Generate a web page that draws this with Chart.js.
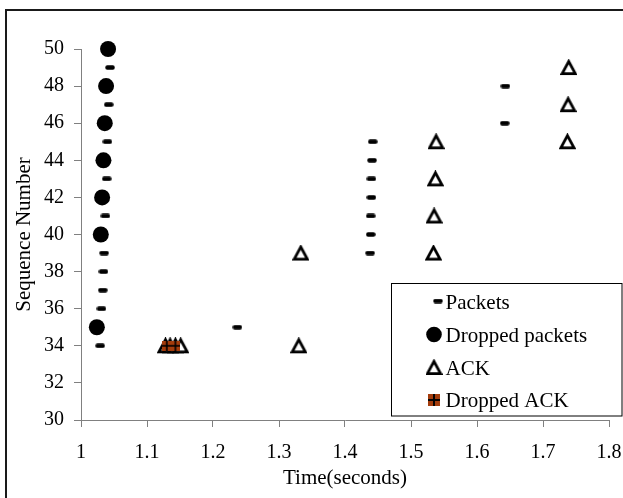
<!DOCTYPE html>
<html>
<head>
<meta charset="utf-8">
<script src="https://cdn.jsdelivr.net/npm/chart.js@4.4.1/dist/chart.umd.min.js"></script>
<style>
  html, body { margin: 0; padding: 0; background: #fff; }
  #wrap { position: relative; width: 623px; height: 498px; }
</style>
</head>
<body>
<div id="wrap"><canvas id="c" width="623" height="498"></canvas></div>
<script>
// ---- Data ----
const packetsX = [1.029, 1.031, 1.033, 1.034, 1.035, 1.037, 1.039, 1.040, 1.042, 1.044, 1.237, 1.438, 1.439, 1.439, 1.440, 1.440, 1.441, 1.442, 1.642, 1.643];
const packetsY = [34, 36, 37, 38, 39, 41, 43, 45, 47, 49, 35, 39, 40, 41, 42, 43, 44, 45, 46, 48];

const droppedX = [1.024, 1.030, 1.032, 1.034, 1.036, 1.038, 1.041];
const droppedY = [35, 40, 42, 44, 46, 48, 50];

const ackX = [1.128, 1.135, 1.143, 1.151, 1.330, 1.333, 1.534, 1.535, 1.537, 1.538, 1.737, 1.738, 1.739];
const ackY = [34, 34, 34, 34, 34, 39, 39, 41, 43, 45, 45, 47, 49];

const droppedAckX = [1.130, 1.143];
const droppedAckY = [34, 34];

const seriesNames = ['Packets', 'Dropped packets', 'ACK', 'Dropped ACK'];
const xTickMin = 1, xTickMax = 1.8, xTickStep = 0.1;
const yTickMin = 30, yTickMax = 50, yTickStep = 2;

const FONT = '"Liberation Serif", "Times New Roman", serif';
const BROWN = '#a33c0c';

// ---- marker images ----
function makeDash() {
  const c = document.createElement('canvas'); c.width = 10; c.height = 5;
  const g = c.getContext('2d');
  g.fillStyle = '#000';
  g.beginPath();
  if (g.roundRect) g.roundRect(0.3, 0.3, 9.4, 4.4, 2); else g.rect(0.3, 0.3, 9.4, 4.4);
  g.fill();
  return c;
}
function makeTriangle() {
  const c = document.createElement('canvas'); c.width = 17; c.height = 17;
  const g = c.getContext('2d');
  g.fillStyle = '#fff'; g.strokeStyle = '#000'; g.lineWidth = 2.8; g.lineJoin = 'miter';
  g.beginPath();
  g.moveTo(8.5, 2.4); g.lineTo(15.1, 14.6); g.lineTo(1.9, 14.6); g.closePath();
  g.fill(); g.stroke();
  return c;
}
function makeDropAck(s) {
  const c = document.createElement('canvas'); c.width = s; c.height = s;
  const g = c.getContext('2d');
  g.fillStyle = BROWN; g.fillRect(0, 0, s, s);
  g.fillStyle = '#000';
  const w = Math.max(1.5, s * 0.16);
  g.fillRect(s / 2 - w / 2, 0, w, s);
  g.fillRect(0, s / 2 - w / 2, s, w);
  return c;
}
const dashImg = makeDash();
const triImg = makeTriangle();
const dropAckImg = makeDropAck(10);
const dropAckLegendImg = makeDropAck(12);

function pts(xs, ys) { return xs.map((x, i) => ({ x: x, y: ys[i] })); }

// ---- frame + legend plugin ----
const framePlugin = {
  id: 'frame',
  beforeDraw(chart) {
    const ctx = chart.ctx;
    ctx.save();
    ctx.fillStyle = '#fff';
    ctx.fillRect(0, 0, chart.width, chart.height);
    ctx.strokeStyle = '#1a1a1a';
    ctx.lineWidth = 2;
    ctx.beginPath();
    ctx.moveTo(6, chart.height);
    ctx.lineTo(6, 10);
    ctx.lineTo(chart.width, 10);
    ctx.stroke();
    ctx.restore();
  },
  afterDraw(chart) {
    const ctx = chart.ctx;
    ctx.save();
    const bx = 391.5, by = 283.5, bw = 230.5, bh = 132.5;
    ctx.fillStyle = '#fff';
    ctx.fillRect(bx, by, bw, bh);
    ctx.strokeStyle = '#000';
    ctx.lineWidth = 1;
    ctx.strokeRect(bx, by, bw, bh);
    const baselines = [308.5, 341.5, 374.5, 407];
    const mx = 434;
    ctx.font = '21px ' + FONT;
    ctx.fillStyle = '#000';
    ctx.textBaseline = 'alphabetic';
    ctx.textAlign = 'left';
    seriesNames.forEach((name, i) => {
      const cy = baselines[i] - 7;
      if (i === 0) ctx.drawImage(dashImg, 438 - 5, cy - 3);
      else if (i === 1) { ctx.beginPath(); ctx.arc(mx, cy, 7.8, 0, Math.PI * 2); ctx.fillStyle = '#000'; ctx.fill(); }
      else if (i === 2) ctx.drawImage(triImg, mx - 8.5, cy - 8.5);
      else ctx.drawImage(dropAckLegendImg, mx - 6, cy - 6);
      ctx.fillStyle = '#000';
      ctx.fillText(name, 445.5, baselines[i]);
    });
    ctx.restore();
  }
};

const axisColor = '#808080';

new Chart(document.getElementById('c'), {
  type: 'scatter',
  data: {
    datasets: [
      { label: seriesNames[3], data: pts(droppedAckX, droppedAckY), pointStyle: dropAckImg, order: 0, clip: false },
      { label: seriesNames[2], data: pts(ackX, ackY), pointStyle: triImg, order: 1, clip: false },
      { label: seriesNames[1], data: pts(droppedX, droppedY), pointStyle: 'circle', pointRadius: 8, backgroundColor: '#000', borderColor: '#000', borderWidth: 0, order: 2, clip: false },
      { label: seriesNames[0], data: pts(packetsX, packetsY), pointStyle: dashImg, order: 3, clip: false }
    ]
  },
  options: {
    responsive: false,
    animation: false,
    devicePixelRatio: 1,
    layout: { padding: { top: 49, right: 14, left: 0, bottom: 0 } },
    plugins: { legend: { display: false }, tooltip: { enabled: false } },
    elements: { point: { radius: 5, hoverRadius: 5 } },
    scales: {
      x: {
        type: 'linear',
        min: xTickMin, max: xTickMax,
        afterFit(s) { s.height = 78; s.paddingLeft = 0; s.paddingRight = 0; },
        ticks: {
          stepSize: xTickStep, color: '#000', padding: 14,
          font: { family: FONT, size: 20 },
          maxRotation: 0, autoSkip: false,
          callback: v => String(parseFloat(Number(v).toFixed(2)))
        },
        grid: { drawOnChartArea: false, drawTicks: true, tickLength: 7, color: axisColor },
        border: { display: true, color: axisColor, width: 1 },
        title: { display: true, text: 'Time(seconds)', color: '#000', font: { family: FONT, size: 21 }, padding: { top: 0, bottom: 7 } }
      },
      y: {
        type: 'linear',
        min: yTickMin, max: yTickMax,
        afterFit(s) { s.width = 81; s.paddingTop = 0; s.paddingBottom = 0; },
        ticks: {
          stepSize: yTickStep, color: '#000', padding: 10,
          font: { family: FONT, size: 20 }
        },
        grid: { drawOnChartArea: false, drawTicks: true, tickLength: 7, color: axisColor },
        border: { display: true, color: axisColor, width: 1 },
        title: { display: true, text: 'Sequence Number', color: '#000', font: { family: FONT, size: 21 }, padding: { top: 12, bottom: 0 } }
      }
    }
  },
  plugins: [framePlugin]
});
</script>
</body>
</html>
